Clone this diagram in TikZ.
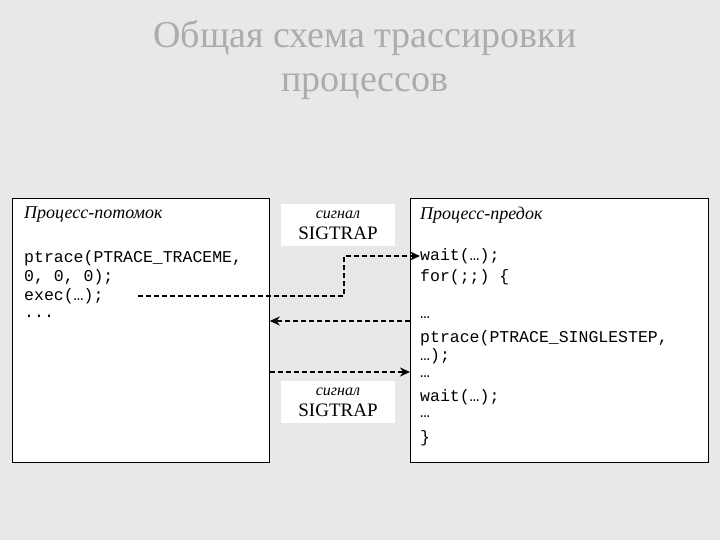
\documentclass[tikz,border=0pt]{standalone}
\usepackage{fontspec}
\setmainfont{Liberation Serif}
\setmonofont{Liberation Mono}
\usetikzlibrary{arrows.meta}
\begin{document}
\begin{tikzpicture}[x=1pt,y=-1pt,
  box/.style={draw=black,fill=white,line width=0.8pt},
  code/.style={anchor=west,inner sep=0pt,font=\fontsize{16.5}{19}\ttfamily},
  hdr/.style={anchor=west,inner sep=0pt,font=\fontsize{18}{20}\itshape},
  sig/.style={fill=white,minimum width=114pt,minimum height=42pt,align=center,inner sep=0pt,font=\fontsize{19}{21}\selectfont},
  conn/.style={dashed,dash pattern=on 5pt off 3pt,line width=1.6pt,-{Stealth[length=10pt,width=9pt]}}]
\fill[gray!18] (0,0) rectangle (720,540);
\node[text=gray!65,align=center,font=\fontsize{38}{44}\selectfont] (title) at (365,60) {Общая схема трассировки\\процессов};
\node[box,minimum width=257pt,minimum height=264pt,anchor=north west] (L) at (12,198) {};
\node[box,minimum width=298pt,minimum height=264pt,anchor=north west] (R) at (410,198) {};
\node[sig] (s1) at (338,225) {{\fontsize{16}{18}\itshape сигнал}\\SIGTRAP};
\node[sig] (s2) at (338,402) {{\fontsize{16}{18}\itshape сигнал}\\SIGTRAP};
\node[hdr] (lh) at (24,215) {Процесс-потомок};
\node[hdr] (rh) at (420,215) {Процесс-предок};
\node[code] (l1) at (24,258) {ptrace(PTRACE\_TRACEME,};
\node[code] (l2) at (24,277) {0, 0, 0);};
\node[code] (l3) at (24,296) {exec(…);};
\node[code] (l4) at (24,316) {...};
\node[code] (r1) at (420,256) {wait(…);};
\node[code] (r2) at (420,277) {for(;;) \{};
\node[code] (r3) at (420,318) {…};
\node[code] (r4) at (420,338) {ptrace(PTRACE\_SINGLESTEP,};
\node[code] (r5) at (420,356) {…);};
\node[code] (r6) at (420,377) {…};
\node[code] (r7) at (420,397) {wait(…);};
\node[code] (r8) at (420,417) {…};
\node[code] (r9) at (420,438) {\}};
\coordinate (a0) at (138,296);
\draw[conn] (a0) -- (344,296) -- (344,256) -- (r1.west);
\draw[conn] (R.west |- 0,321) -- (L.east |- 0,321);
\draw[conn] (L.east |- 0,372) -- (R.west |- 0,372);
\end{tikzpicture}
\end{document}
